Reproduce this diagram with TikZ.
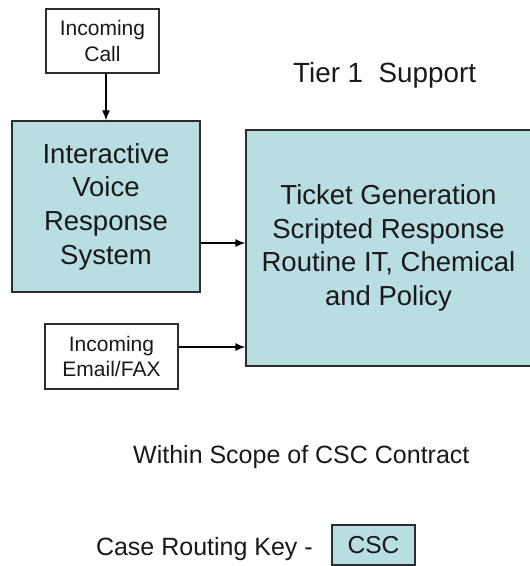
\documentclass[tikz,border=0pt]{standalone}
\usepackage{fontspec}
\setmainfont{Liberation Sans}
\usetikzlibrary{arrows.meta}
\definecolor{boxfill}{RGB}{185,222,226}
\definecolor{ink}{RGB}{25,25,25}
\definecolor{edge}{RGB}{45,45,45}
\begin{document}
\begin{tikzpicture}[x=1pt,y=-1pt,
  every node/.style={inner sep=0pt,text=ink,align=center},
  whitebox/.style={draw=edge,line width=1.3pt,fill=white,font=\fontsize{21}{25.5}\selectfont},
  tealbox/.style={draw=edge,line width=1.3pt,fill=boxfill,font=\fontsize{27.5}{33.7}\selectfont},
  plain/.style={font=\fontsize{25}{30}\selectfont},
  arr/.style={draw=black,line width=1.3pt,-{Latex[length=10pt,width=8pt]}}]
\useasboundingbox[fill=white] (0,0) rectangle (530,566);
\node[whitebox,minimum width=113pt,minimum height=64pt] (call) at (102.5,41) {Incoming\\Call};
\node[tealbox,minimum width=188pt,minimum height=171pt] (ivr) at (106,206.5) {Interactive\\Voice\\Response\\System};
\node[tealbox,minimum width=285pt,minimum height=236pt] (ticket) at (388.5,248) {Ticket Generation\\Scripted Response\\Routine IT, Chemical\\and Policy};
\node[whitebox,minimum width=133pt,minimum height=65pt] (email) at (111.5,356.5) {Incoming\\Email/FAX};
\node[plain,font=\fontsize{27.8}{32}\selectfont,anchor=base west] (tier) at (293,82) {Tier 1~~Support};
\node[plain,anchor=base west] (scope) at (133,463) {Within Scope of CSC Contract};
\node[plain,anchor=base east] (key) at (313,555) {Case Routing Key -};
\node[draw=edge,line width=1.2pt,fill=boxfill,font=\fontsize{24.5}{29}\selectfont,minimum width=83pt,minimum height=40pt] (csc) at (373.5,545) {CSC};
\draw[arr] (ivr.north |- call.south) -- (ivr.north);
\draw[arr] ([yshift=-36.5pt]ivr.east) coordinate (a) -- (a -| ticket.west);
\draw[arr] ([yshift=9.5pt]email.east) coordinate (b) -- (b -| ticket.west);
\end{tikzpicture}
\end{document}
